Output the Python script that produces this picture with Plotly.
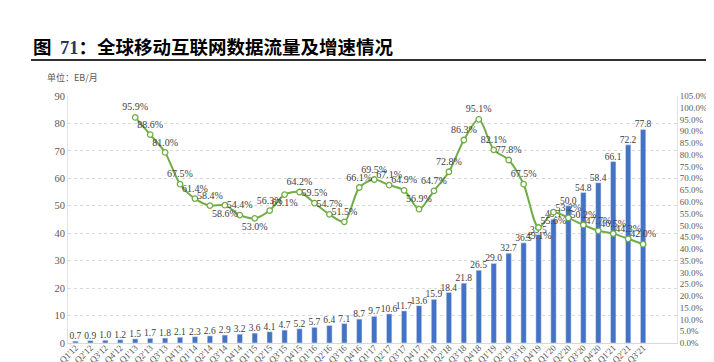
import plotly.graph_objects as go

quarters = []
for yr in range(12, 22):
    for q in range(1, 5):
        if yr == 21 and q == 4:
            break
        quarters.append(f"Q{q}'{yr}")

traffic = [0.7, 0.9, 1.0, 1.2, 1.5, 1.7, 1.8, 2.1, 2.3, 2.6, 2.9, 3.2,
           3.6, 4.1, 4.7, 5.2, 5.7, 6.4, 7.1, 8.7, 9.7, 10.6, 11.7, 13.6,
           15.9, 18.4, 21.8, 26.5, 29.0, 32.7, 36.5, 39.5, 45.1, 50.0, 54.8, 58.4,
           66.1, 72.2, 77.8]

growth_quarters = quarters[4:]
growth = [95.9, 88.6, 81.0, 67.5, 61.4, 58.4, 58.6, 54.4, 53.0, 56.3, 63.1, 64.2,
          59.5, 54.7, 51.5, 66.1, 69.5, 67.1, 64.9, 56.9, 64.7, 72.8, 86.3, 95.1,
          82.1, 77.8, 67.5, 49.1, 55.6, 53.2, 50.2, 47.7, 46.5, 44.3, 42.0]

below_labels = {"Q3'14", "Q1'15", "Q3'15", "Q4'19", "Q1'20"}
label_pos = ["bottom center" if q in below_labels else "top center" for q in growth_quarters]

SERIF = "Liberation Serif, Times New Roman, serif"
CJK = "Noto Sans CJK SC, sans-serif"
GRAY = "#595959"

fig = go.Figure()
fig.add_trace(go.Bar(
    x=quarters, y=traffic, width=0.36, marker_color="#4472C4",
    text=[f"{v:.1f}" for v in traffic], textposition="outside",
    textfont=dict(family=SERIF, size=9.5, color="#404040"),
    constraintext="none", cliponaxis=False, showlegend=False, yaxis="y"))
fig.add_trace(go.Scatter(
    x=growth_quarters, y=growth, mode="lines+markers+text",
    line=dict(color="#70AD47", width=2, shape="spline", smoothing=0.8),
    marker=dict(size=5.5, color="white", line=dict(color="#70AD47", width=1.3)),
    text=[f"{v:.1f}%" for v in growth], textposition=label_pos,
    textfont=dict(family=SERIF, size=10, color="#404040"),
    cliponaxis=False, showlegend=False, yaxis="y2"))

L, R, T, B = 60, 669, 88, 335
W, H = 714, 362
pw, ph = R - L, B - T

def px(x):
    return (x - L) / pw

def py(y):
    return (B - y) / ph

fig.update_layout(
    width=W, height=H,
    margin=dict(l=L, r=W - R, t=T, b=H - B, autoexpand=False),
    paper_bgcolor="white", plot_bgcolor="white",
    bargap=0.5,
    xaxis=dict(type="category", tickangle=-45, showline=True, linecolor="#D9D9D9",
               ticks="", tickfont=dict(family=SERIF, size=9, color=GRAY),
               ticklabelstandoff=-5,
               automargin=False, showgrid=False),
    yaxis=dict(range=[0, 90], dtick=10, showgrid=True, gridcolor="#D9D9D9",
               griddash="dot", gridwidth=1, showline=True, linecolor="#E3E3E3",
               zeroline=False, ticks="", tickfont=dict(family=SERIF, size=10.5, color=GRAY),
               automargin=False),
    yaxis2=dict(range=[0, 105], dtick=5, overlaying="y", side="right",
                tickformat=".1f", ticksuffix="%", showgrid=False, showline=True,
                linecolor="#E3E3E3", zeroline=False, ticks="",
                tickfont=dict(family=SERIF, size=9, color=GRAY), automargin=False),
    annotations=[
        dict(xref="paper", yref="paper", x=px(23), y=py(38), xanchor="left", yanchor="middle",
             showarrow=False,
             text="<b>图  <span style='color:#1F3864;font-family:Liberation Serif'>71</span>：全球移动互联网数据流量及增速情况</b>",
             font=dict(family=CJK, size=18.5, color="black")),
        dict(xref="paper", yref="paper", x=px(37), y=py(69), xanchor="left", yanchor="middle",
             showarrow=False, text="单位：EB/月",
             font=dict(family=CJK, size=9, color=GRAY)),
    ],
    shapes=[dict(type="line", xref="paper", yref="paper", x0=px(23), x1=px(714),
                 y0=py(52), y1=py(52), line=dict(color="#333333", width=2))],
)

fig.write_html("out.html")
